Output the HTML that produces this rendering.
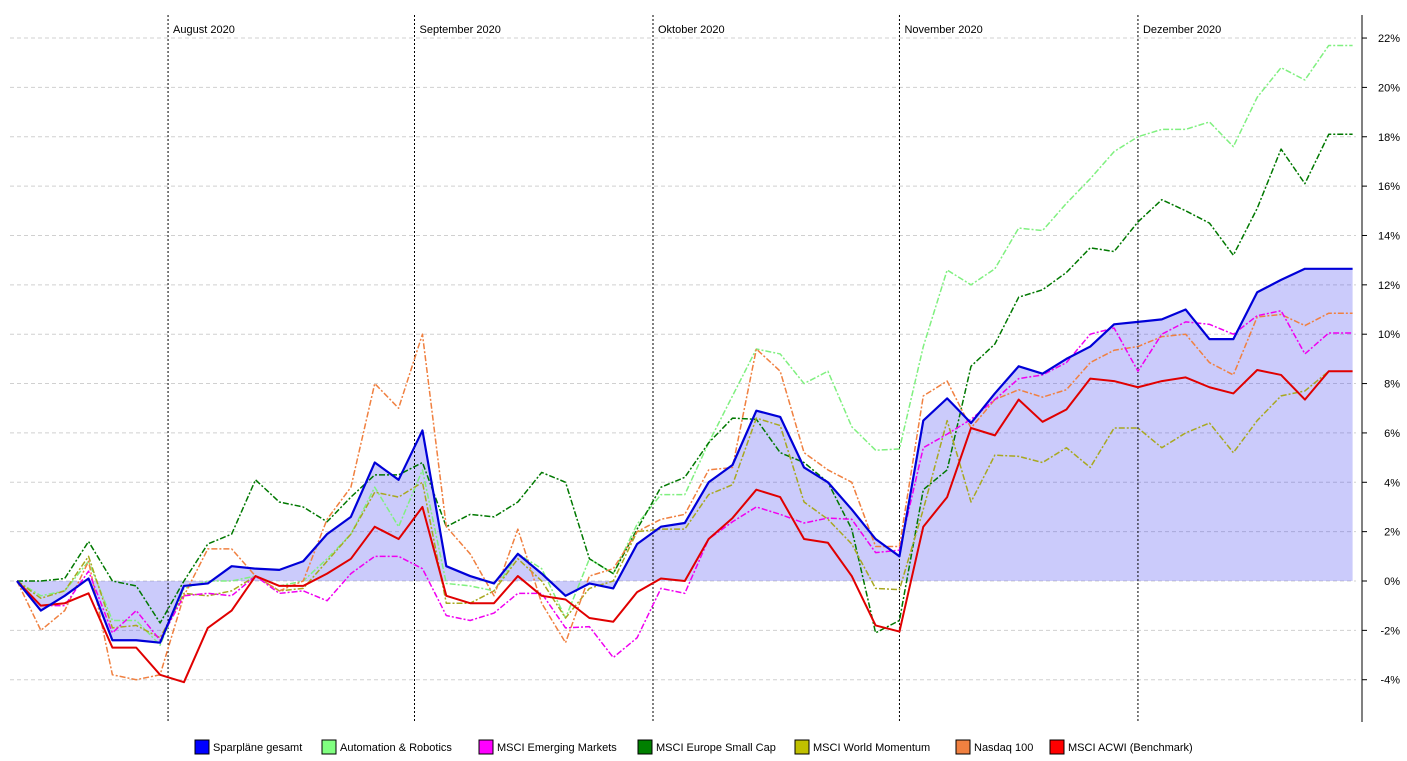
<!DOCTYPE html>
<html><head><meta charset="utf-8"><style>
body{margin:0;background:#fff;font-family:"Liberation Sans",sans-serif;}
svg{display:block}
</style></head><body>
<svg id="c" width="1407" height="761"></svg>
<script>
const sampleDays=[0,3,6,9,12,15,18,21,24,27,30,33,36,39,42,45,48,51,54,57,60,63,66,69,72,75,78,81,84,87,90,93,96,99,102,105,108,111,114,117,120,123,126,129,132,135,138,141,144,147,150,153,156,159,162,165,168];
const sparplaene=[0,-1.2,-0.6,0.1,-2.4,-2.4,-2.5,-0.2,-0.1,0.6,0.5,0.45,0.8,1.9,2.6,4.8,4.1,6.1,0.6,0.2,-0.1,1.1,0.3,-0.6,-0.1,-0.3,1.5,2.2,2.35,4.0,4.7,6.9,6.65,4.6,4.0,2.9,1.7,1.0,6.5,7.4,6.4,7.6,8.7,8.4,9.0,9.5,10.4,10.5,10.6,11.0,9.8,9.8,11.7,12.2,12.65,12.65,12.65];
const automation=[0,-0.6,-0.4,0.8,-1.6,-1.6,-2.6,-0.3,0,0,0.2,-0.2,0,0.9,1.9,3.8,2.2,4.5,-0.1,-0.2,-0.4,1.1,0.5,-1.5,0.9,0.3,2.3,3.5,3.5,5.6,7.5,9.4,9.2,8.0,8.5,6.25,5.3,5.35,9.5,12.6,12.0,12.65,14.3,14.2,15.3,16.3,17.4,18.0,18.3,18.3,18.6,17.6,19.6,20.8,20.3,21.7,21.7];
const emerging=[0,-1.0,-1.0,0.4,-2.1,-1.2,-2.4,-0.6,-0.5,-0.6,0.2,-0.5,-0.4,-0.8,0.3,1.0,1.0,0.5,-1.4,-1.6,-1.3,-0.5,-0.5,-1.9,-1.85,-3.1,-2.3,-0.3,-0.5,1.7,2.4,3.0,2.7,2.35,2.55,2.5,1.15,1.25,5.4,5.95,6.55,7.35,8.2,8.35,8.85,10.0,10.25,8.5,10.0,10.5,10.4,10.0,10.75,10.95,9.2,10.05,10.05];
const smallCap=[0,0,0.1,1.6,0,-0.2,-1.7,0,1.5,1.9,4.1,3.2,3.0,2.4,3.4,4.3,4.3,4.8,2.2,2.7,2.6,3.2,4.4,4.0,0.9,0.3,2.1,3.8,4.2,5.6,6.6,6.55,5.2,4.8,4.0,2.1,-2.1,-1.6,3.7,4.5,8.7,9.6,11.5,11.8,12.5,13.5,13.35,14.55,15.45,15.0,14.5,13.2,15.1,17.5,16.1,18.1,18.1];
const momentum=[0,-0.7,-0.4,1.0,-1.9,-1.8,-2.3,-0.5,-0.6,-0.4,0.2,-0.4,-0.3,0.8,1.9,3.6,3.4,4.0,-0.9,-0.9,-0.4,0.9,0,-1.5,-0.3,0,2.0,2.1,2.1,3.5,3.9,6.6,6.3,3.2,2.5,1.5,-0.3,-0.35,2.9,6.5,3.2,5.1,5.05,4.8,5.4,4.6,6.2,6.2,5.4,6.0,6.4,5.2,6.5,7.5,7.7,8.5,8.5];
const nasdaq=[0,-2.0,-1.2,0.8,-3.8,-4.0,-3.8,-0.6,1.3,1.3,0.2,-0.4,0,2.5,3.8,8.0,7.0,10.0,2.2,1.1,-0.6,2.1,-0.9,-2.5,0.2,0.5,2.0,2.5,2.7,4.5,4.6,9.4,8.5,5.2,4.5,4.0,1.4,1.4,7.5,8.1,6.2,7.35,7.75,7.45,7.75,8.85,9.35,9.5,9.9,10.0,8.85,8.35,10.7,10.8,10.35,10.85,10.85];
const acwi=[0,-1.0,-0.9,-0.5,-2.7,-2.7,-3.8,-4.1,-1.9,-1.2,0.2,-0.2,-0.2,0.3,0.9,2.2,1.7,3.0,-0.6,-0.9,-0.9,0.2,-0.6,-0.75,-1.5,-1.65,-0.45,0.1,0,1.7,2.55,3.7,3.4,1.7,1.55,0.2,-1.8,-2.05,2.2,3.4,6.2,5.9,7.35,6.45,6.95,8.2,8.1,7.85,8.1,8.25,7.85,7.6,8.55,8.35,7.35,8.5,8.5];
const yTicks=[22,20,18,16,14,12,10,8,6,4,2,0,-2,-4];
const months=["August 2020","September 2020","Oktober 2020","November 2020","Dezember 2020"];
const monthDay=[19,50,80,111,141];

const NS="http://www.w3.org/2000/svg";
const svg=document.getElementById('c');
const x0=17,dayPx=7.95;
const yz=581,pp=24.68;
const Y=v=>yz-v*pp;
const Xd=d=>x0+d*dayPx;
function mk(t,a,p){const e=document.createElementNS(NS,t);for(const k in a)e.setAttribute(k,a[k]);(p||svg).appendChild(e);return e;}

yTicks.forEach(v=>{
  const g=mk('line',{x1:10,x2:1356,y1:Y(v),y2:Y(v),stroke:'#d0d0d0','stroke-dasharray':'4,3','stroke-width':1});
  
  
});
const ax=mk('line',{x1:1362,x2:1362,y1:15,y2:722,stroke:'#000','stroke-width':1});


yTicks.forEach(v=>{
  mk('line',{x1:1362,x2:1367,y1:Y(v),y2:Y(v),stroke:'#000'});
  const t=mk('text',{x:1400,y:Y(v)+4,'text-anchor':'end','font-size':11,fill:'#000'});
  t.textContent=v+'%';
  
  
});
let d='M'+Xd(sampleDays[0])+','+Y(0);
sparplaene.forEach((v,i)=>d+=' L'+Xd(sampleDays[i])+','+Y(v));
d+=' L'+Xd(sampleDays[sampleDays.length-1])+','+Y(0)+' Z';
const fa=mk('path',{d:d,fill:'rgba(70,70,240,0.28)',stroke:'none'});


months.forEach((m,i)=>{
  const x=Xd(monthDay[i]);
  const l=mk('line',{x1:x,x2:x,y1:15,y2:722,stroke:'#000','stroke-dasharray':'2,2','stroke-width':1});
  
  
  const t=mk('text',{x:x+5,y:33,'font-size':11,fill:'#000'});
  t.textContent=m;
  
  
});
function line(arr,color,w,dash,name){
  const p=mk('path',{d:arr.map((v,i)=>(i?'L':'M')+Xd(sampleDays[i])+','+Y(v)).join(' '),fill:'none',stroke:color,'stroke-width':w,'stroke-linejoin':'round'});
  if(dash)p.setAttribute('stroke-dasharray',dash);
  
  
}
const dd='6,2,2,2';
line(automation,'#80f080',1.5,dd,'automation-line');
line(smallCap,'#007800',1.5,dd,'europe-small-cap-line');
line(momentum,'#a8a820',1.5,dd,'world-momentum-line');
line(nasdaq,'#f08040',1.5,dd,'nasdaq-line');
line(emerging,'#f000f0',1.5,dd,'emerging-markets-line');
line(acwi,'#e00000',2,null,'acwi-line');
line(sparplaene,'#0000d8',2.2,null,'sparplaene-line');

const leg=[['Sparpläne gesamt','#0000ff',195],['Automation & Robotics','#80ff80',322],['MSCI Emerging Markets','#ff00ff',479],['MSCI Europe Small Cap','#008000',638],['MSCI World Momentum','#c0c000',795],['Nasdaq 100','#f08040',956],['MSCI ACWI (Benchmark)','#ff0000',1050]];
leg.forEach(l=>{
  const g=mk('g',{});
  
  
  mk('rect',{x:l[2],y:740,width:14,height:14,fill:l[1],stroke:'#000','stroke-width':1},g);
  const t=mk('text',{x:l[2]+18,y:751,'font-size':11,fill:'#000'},g);
  t.textContent=l[0];
});
</script>
</body></html>
